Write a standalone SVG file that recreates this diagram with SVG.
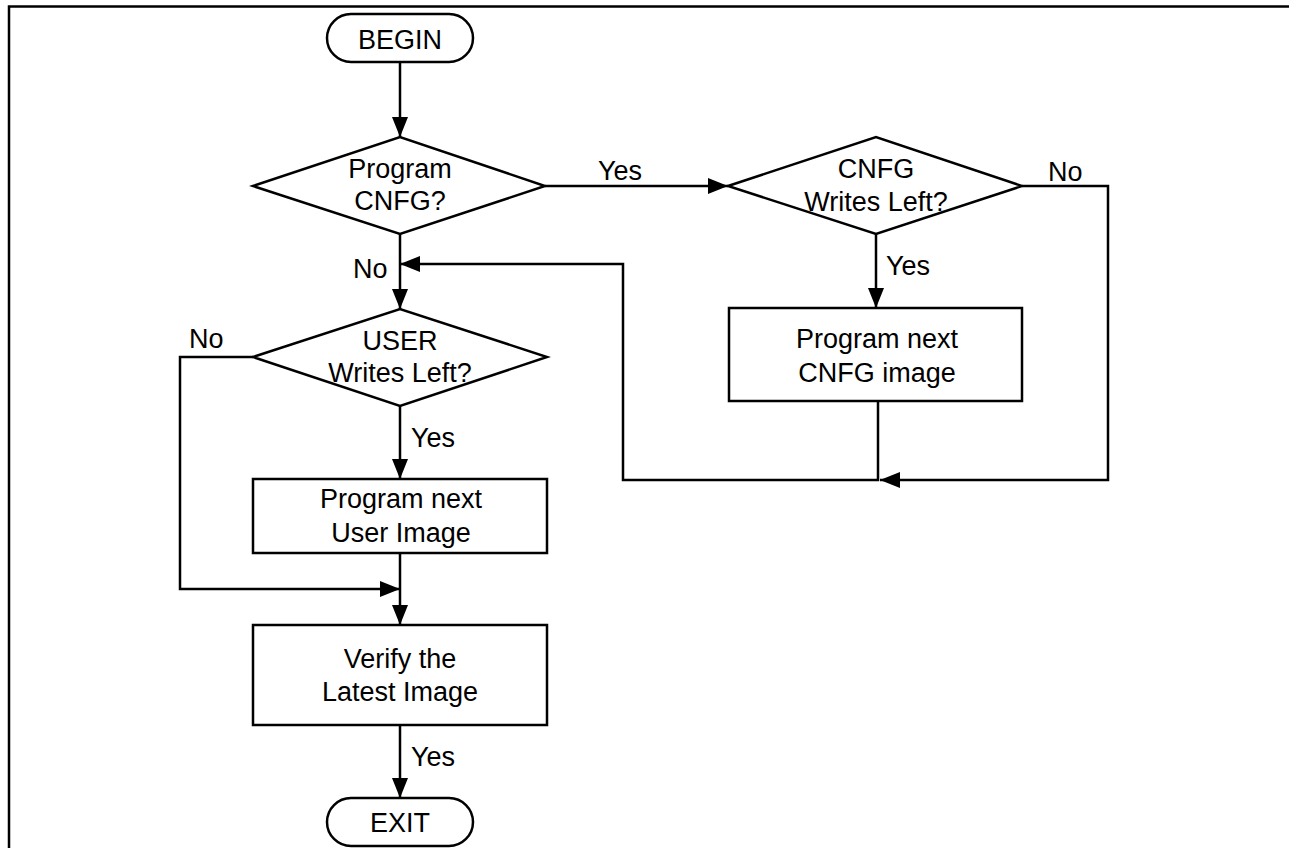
<svg xmlns="http://www.w3.org/2000/svg" width="1289" height="848" viewBox="0 0 1289 848">
<style>
.shape{fill:#fff;stroke:#000;stroke-width:2.5}
.conn{fill:none;stroke:#000;stroke-width:2.5}
text{font-family:"Liberation Sans",Arial,sans-serif;font-size:27px;fill:#000}
.c{text-anchor:middle}
</style>
<defs>
<marker id="arr" viewBox="0 0 20 16" refX="20" refY="8" markerWidth="20" markerHeight="16" markerUnits="userSpaceOnUse" orient="auto">
<path d="M0,0 L20,8 L0,16 z" fill="#000"/>
</marker>
</defs>
<rect width="1289" height="848" fill="#fff"/>
<path d="M9,848 V6.5 H1289" fill="none" stroke="#000" stroke-width="2.5"/>
<g id="connectors">
<path class="conn" d="M400,62 V137" marker-end="url(#arr)"/>
<path class="conn" d="M545,186 H728" marker-end="url(#arr)"/>
<path class="conn" d="M400,234 V309" marker-end="url(#arr)"/>
<path class="conn" d="M876,234 V308" marker-end="url(#arr)"/>
<path class="conn" d="M1022,186 H1108 V480 H880" marker-end="url(#arr)"/>
<path class="conn" d="M878,401 V480 H623 V264 H400" marker-end="url(#arr)"/>
<path class="conn" d="M253,357 H180 V589 H400" marker-end="url(#arr)"/>
<path class="conn" d="M400,406 V479" marker-end="url(#arr)"/>
<path class="conn" d="M400,553 V625" marker-end="url(#arr)"/>
<path class="conn" d="M400,725 V798" marker-end="url(#arr)"/>
<text x="598" y="180">Yes</text>
<text x="1048" y="181">No</text>
<text x="886" y="275">Yes</text>
<text x="353" y="278">No</text>
<text x="189" y="348">No</text>
<text x="411" y="447">Yes</text>
<text x="411" y="766">Yes</text>
</g>
<g id="begin">
<rect class="shape" x="327" y="14" width="146" height="48" rx="24"/>
<text class="c" x="400" y="49">BEGIN</text>
</g>
<g id="program-cnfg">
<polygon class="shape" points="253,186 400,137 545,186 400,234"/>
<text class="c" x="400" y="178">Program</text>
<text class="c" x="400" y="210">CNFG?</text>
</g>
<g id="cnfg-writes-left">
<polygon class="shape" points="728,186 876,137 1022,186 876,234"/>
<text class="c" x="876" y="178">CNFG</text>
<text class="c" x="876" y="211">Writes Left?</text>
</g>
<g id="program-cnfg-image">
<rect class="shape" x="729" y="308" width="293" height="93"/>
<text class="c" x="877" y="348">Program next</text>
<text class="c" x="877" y="382">CNFG image</text>
</g>
<g id="user-writes-left">
<polygon class="shape" points="253,357 400,309 547,357 400,406"/>
<text class="c" x="400" y="350">USER</text>
<text class="c" x="400" y="382">Writes Left?</text>
</g>
<g id="program-user-image">
<rect class="shape" x="253" y="479" width="294" height="74"/>
<text class="c" x="401" y="508">Program next</text>
<text class="c" x="401" y="542">User Image</text>
</g>
<g id="verify">
<rect class="shape" x="253" y="625" width="294" height="100"/>
<text class="c" x="400" y="668">Verify the</text>
<text class="c" x="400" y="701">Latest Image</text>
</g>
<g id="exit">
<rect class="shape" x="327" y="798" width="146" height="48" rx="24"/>
<text class="c" x="400" y="832">EXIT</text>
</g>
</svg>
